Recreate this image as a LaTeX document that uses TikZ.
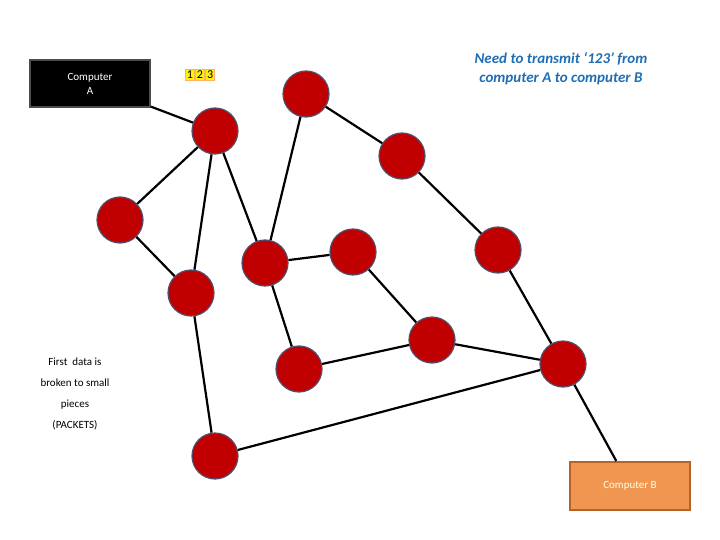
\documentclass[tikz,border=0pt]{standalone}
\usepackage{fontspec}
\setmainfont{Carlito}
\definecolor{nodered}{RGB}{192,0,0}
\definecolor{rim}{RGB}{80,80,110}
\definecolor{titleblue}{RGB}{31,110,180}
\definecolor{orangebox}{RGB}{240,150,80}
\definecolor{orangedark}{RGB}{180,100,40}
\begin{document}
\begin{tikzpicture}[x=1pt,y=-1pt,
  router/.style={circle,fill=nodered,draw=rim,line width=1.2pt,minimum size=46pt,inner sep=0pt},
  link/.style={line width=2.2pt,black}]
\useasboundingbox (0,0) rectangle (720,540);
\node[fill=black,draw=gray!60!black,line width=1.5pt,text=white,minimum width=120pt,minimum height=47pt,align=center,font=\fontsize{11}{14}\selectfont,inner sep=0pt] (A) at (90,83.5) {Computer\\A};
\node[fill=orangebox,draw=orangedark,line width=2pt,text=white!90!yellow,minimum width=120pt,minimum height=48pt,font=\fontsize{11}{14}\selectfont,inner sep=0pt] (B) at (630,486) {Computer B};
\node[font=\fontsize{12}{14}\selectfont,inner sep=1pt] (pk) at (200,75) {\fboxsep=1pt\colorbox{orange!60}{\colorbox{yellow}{1}\,\colorbox{yellow}{2}\,\colorbox{yellow}{3}}};
\node[text=titleblue,font=\fontsize{15}{19}\selectfont\bfseries\itshape,align=center] (t) at (561,69) {Need to transmit ‘123’ from\\computer A to computer B};
\node[align=center,font=\fontsize{11}{21}\selectfont] (note) at (75,394) {First\ \ data is\\broken to small\\pieces\\(PACKETS)};
\foreach \n/\x/\y in {1/215/131,2/306/94,3/402/156,4/120/220,5/265/263,6/353/252,7/498/250,8/191/293,9/432/340,10/299/369,11/563/364,12/215/456}
  \node[router] (n\n) at (\x,\y) {};
\begin{scope}[on background layer/.style={}]
\end{scope}
\foreach \a/\b in {A/n1,n1/n4,n1/n8,n1/n5,n2/n3,n2/n5,n3/n7,n5/n6,n5/n10,n6/n9,n4/n8,n8/n12,n10/n9,n9/n11,n7/n11,n12/n11,n11/B}
  \draw[link] (\a) -- (\b);
\end{tikzpicture}
\end{document}
